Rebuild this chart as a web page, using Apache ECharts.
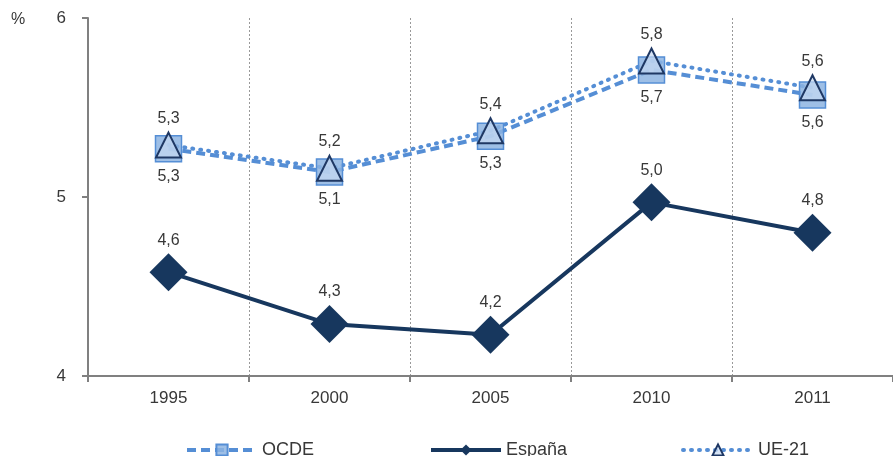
<!DOCTYPE html>
<html>
<head>
<meta charset="utf-8">
<script src="https://cdn.jsdelivr.net/npm/echarts@6/dist/echarts.min.js"></script>
<style>
  html, body { margin: 0; padding: 0; background: #fff; }
  #chart { width: 893px; height: 456px; }
</style>
</head>
<body>
<div id="chart"></div>
<script>
const years = ['1995', '2000', '2005', '2010', '2011'];
const ocde = [5.27, 5.14, 5.34, 5.71, 5.57];
const espana = [4.58, 4.29, 4.23, 4.97, 4.80];
const ue21 = [5.29, 5.16, 5.37, 5.76, 5.61];
const yTicks = [4, 5, 6];

const FONT = 'Liberation Sans, Arial, sans-serif';
const chart = echarts.init(document.getElementById('chart'));

// 1 decimal with comma, as in the source
const fmt = p => p.value.toFixed(1).replace('.', ',');

const labelBase = {
  show: true,
  formatter: fmt,
  color: '#383838',
  fontFamily: FONT,
  fontSize: 16
};

const legendBase = {
  top: 436,
  itemWidth: 70,
  itemHeight: 14,
  itemGap: 6,
  lineStyle: { width: 4 },
  textStyle: { fontSize: 18, color: '#383838', fontFamily: FONT }
};

chart.setOption({
  animation: false,
  backgroundColor: '#fff',
  grid: { left: 88, top: 18, width: 815, height: 358 },
  legend: [
    Object.assign({ left: 180, data: ['OCDE'] }, legendBase),
    Object.assign({ left: 424, data: ['España'] }, legendBase),
    Object.assign({ left: 676, data: ['UE-21'] }, legendBase)
  ],
  graphic: [{
    type: 'text', left: 11, top: 12,
    style: { text: '%', fontSize: 16, fill: '#383838', fontFamily: FONT }
  }],
  xAxis: {
    type: 'category',
    data: years,
    boundaryGap: true,
    axisLine: { lineStyle: { color: '#808080', width: 2 } },
    axisTick: { show: true, length: 6, lineStyle: { color: '#808080', width: 2 } },
    axisLabel: { color: '#383838', fontSize: 17, margin: 14, fontFamily: FONT },
    splitLine: { show: true, lineStyle: { color: '#999', type: [2, 2], width: 1 } }
  },
  yAxis: {
    type: 'value',
    min: yTicks[0],
    max: yTicks[yTicks.length - 1],
    interval: 1,
    axisLine: { show: true, lineStyle: { color: '#808080', width: 2 } },
    axisTick: { show: true, length: 6, lineStyle: { color: '#808080', width: 2 } },
    axisLabel: { color: '#383838', fontSize: 17, margin: 22, fontFamily: FONT },
    splitLine: { show: false }
  },
  series: [
    {
      name: 'España',
      type: 'line',
      data: espana,
      symbol: 'diamond',
      symbolSize: 38,
      lineStyle: { color: '#17375e', width: 4 },
      itemStyle: { color: '#17375e' },
      label: Object.assign({ position: 'top', distance: 5 }, labelBase)
    },
    {
      name: 'OCDE',
      type: 'line',
      data: ocde,
      symbol: 'rect',
      symbolSize: 26,
      lineStyle: { color: '#558ed5', width: 4, type: [9, 5] },
      itemStyle: { color: 'rgba(141,180,226,0.85)', borderColor: '#558ed5', borderWidth: 1.5 },
      label: Object.assign({ position: 'bottom', distance: 6 }, labelBase)
    },
    {
      name: 'UE-21',
      type: 'line',
      data: ue21,
      symbol: 'triangle',
      symbolSize: 25,
      lineStyle: { color: '#558ed5', width: 4, type: [1, 7], cap: 'round' },
      itemStyle: { color: 'rgba(198,217,241,0.7)', borderColor: '#1f3864', borderWidth: 2 },
      label: Object.assign({ position: 'top', distance: 5 }, labelBase)
    }
  ]
});
</script>
</body>
</html>
